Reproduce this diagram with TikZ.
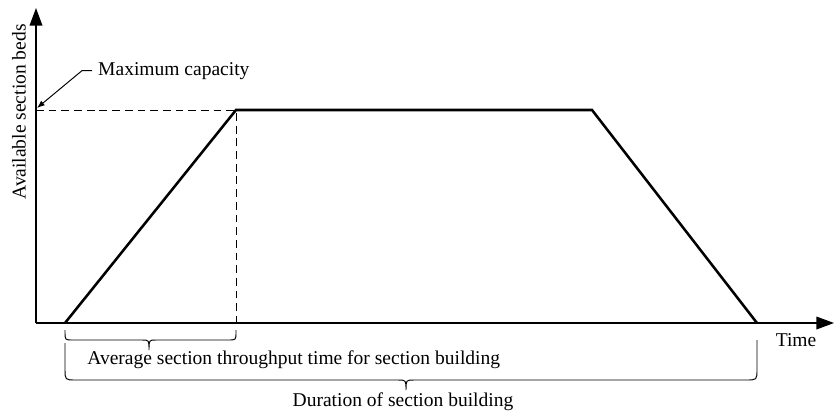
\documentclass[tikz,border=0pt]{standalone}
\usepackage{fontspec}
\setmainfont{Liberation Serif}
\usetikzlibrary{arrows.meta}

\begin{document}
\begin{tikzpicture}[x=0.018cm, y=-0.018cm, font=\fontsize{10}{12}\selectfont,
    axis/.style={line width=0.6pt, -{Triangle[length=9pt, width=6.5pt]}},
    beds/.style={line width=1.3pt, line join=miter},
    guide/.style={line width=0.5pt, dash pattern=on 4pt off 2.5pt},
    brace/.style={line width=0.5pt},
    pointer/.style={line width=0.5pt, -{Latex[length=4pt, width=3pt]}}]
\useasboundingbox (0,0) rectangle (834,413);
\coordinate (O) at (36,323);
\coordinate (ytip) at (36,8);
\coordinate (xtip) at (834,323);
\coordinate (rise) at (65,323);
\coordinate (top1) at (236,110);
\coordinate (top2) at (592,110);
\coordinate (fall) at (757,323);
\coordinate (capmark) at (36,110);

\draw[axis] (O) -- (ytip);
\draw[axis] (O) -- (xtip);
\draw[guide] (capmark) -- (top1) -- (top1 |- O);
\draw[beds] (rise) -- (top1) -- (top2) -- (fall);

\node[rotate=90] (ylabel) at (19,112) {Available section beds};
\node (time) at (796,340) {Time};
\node[anchor=base west, inner sep=3pt] (maxcap) at (92,75) {Maximum capacity};
\draw[pointer] (maxcap.west) -- ++(-10,0) -- (37,108);

\draw[brace] (65,330) -- (65,332) .. controls (65,340) .. (73,340) -- (142,340)
    .. controls (149,340) .. (149,350) .. controls (149,340) .. (156,340)
    -- (228,340) .. controls (236,340) .. (236,332) -- (236,330);
\node[anchor=base west, inner sep=0pt] (avg) at (87,364)
    {Average section throughput time for section building};

\draw[brace] (65,343) -- (65,369) .. controls (65,380) .. (76,380) -- (398,380)
    .. controls (406,380) .. (406,390) .. controls (406,380) .. (414,380)
    -- (746,380) .. controls (757,380) .. (757,369) -- (757,340);
\node[anchor=base, inner sep=0pt] (duration) at (403,406) {Duration of section building};
\end{tikzpicture}
\end{document}
